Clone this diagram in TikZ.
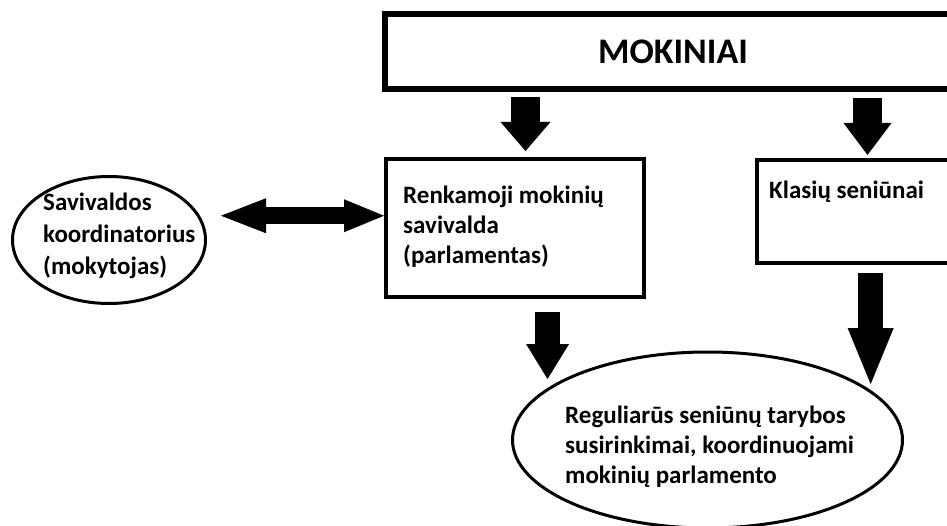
\documentclass[tikz,border=0pt]{standalone}
\usepackage{fontspec}
\setmainfont{Carlito}
\usetikzlibrary{arrows.meta,shapes.geometric,calc}
\tikzset{
  box/.style={draw, rectangle, line width=4pt, inner sep=0pt},
  oval/.style={draw, ellipse, line width=3pt, inner sep=0pt},
  lbl/.style={align=left, inner sep=0pt, anchor=base west},
  blk/.style n args={3}{draw=black, line width=#1,
    -{Triangle[length=#2, width=#3, line width=0pt]}},
}
\begin{document}
\begin{tikzpicture}[x=1pt, y=-1pt, font=\bfseries\fontsize{25}{30}\selectfont]
\path[use as bounding box, clip] (0,0) rectangle (947,526);
\fill[white] (0,0) rectangle (947,526);

% nodes
\node[box, line width=6.3pt, minimum width=576pt, minimum height=75.3pt,
      font=\bfseries\fontsize{36}{42}\selectfont] (mok) at (673,51.4) {MOKINIAI};
\node[box, minimum width=258pt, minimum height=137.5pt] (renk) at (515,228.25) {};
\node[box, minimum width=222pt, minimum height=103pt] (klas) at (867.5,211.5) {};
\node[oval, minimum width=193pt, minimum height=127pt] (coord) at (109,240) {};
\node[oval, minimum width=390pt, minimum height=176pt] (regu) at (707.5,440) {};

% texts (base = last line)
\node[lbl] (renkt) at (403,264) {Renkamoji mokinių\\savivalda\\(parlamentas)};
\node[lbl] (klast) at (769,199) {Klasių seniūnai};
\node[lbl, font=\bfseries\fontsize{25}{32}\selectfont] (coordt) at (43,275) {Savivaldos\\koordinatorius\\(mokytojas)};
\node[lbl] (regut) at (565,483) {Reguliarūs seniūnų tarybos\\susirinkimai, koordinuojami\\mokinių parlamento};

% connectors
\coordinate (dr) at ([yshift=12.5pt]renk.west);
\coordinate (dl) at ([xshift=14pt]coord.east |- dr);
\draw[blk={29pt}{29pt}{50pt}, shorten <=5pt, shorten >=6.5pt]
  ([xshift=10.5pt]renk.north |- mok.south) -- ([xshift=10.5pt]renk.north);
\draw[blk={29pt}{32pt}{48pt}, shorten <=6pt, shorten >=3pt]
  (klas.north |- mok.south) -- (klas.north);
\draw[blk={25pt}{35pt}{43pt}, shorten <=13pt, shorten >=9pt]
  (regu.162.5 |- renk.south) -- (regu.162.5);
\draw[blk={25pt}{56pt}{46pt}, shorten <=8pt, shorten >=6pt]
  (regu.17.6 |- klas.south) -- (regu.17.6);
\draw[line width=17pt,
      {Triangle[length=45pt, width=35pt, line width=0pt]}-{Triangle[length=40pt, width=33pt, line width=0pt]}]
  (dl) -- (dr);
\end{tikzpicture}
\end{document}
